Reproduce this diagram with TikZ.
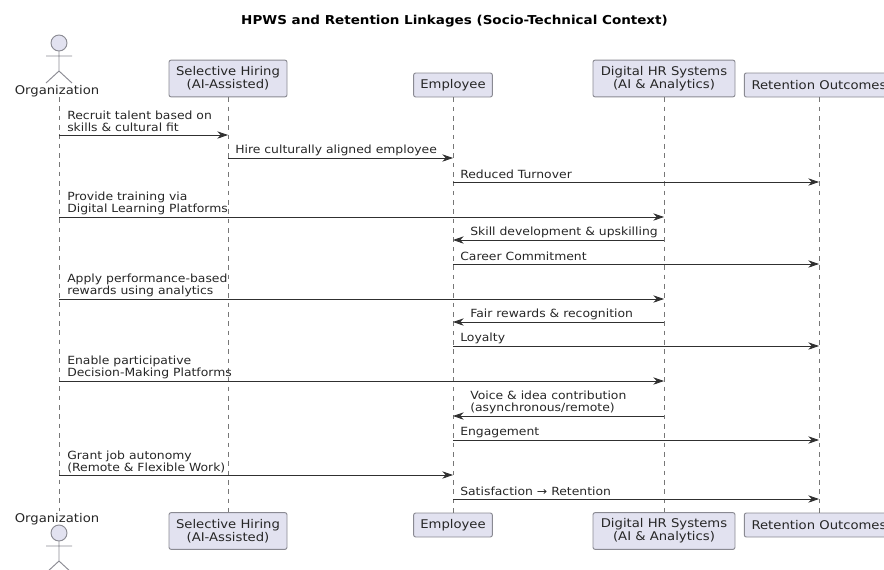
\documentclass[tikz,border=0pt]{standalone}
\usepackage{fontspec}
\setmainfont[FakeStretch=1.1]{DejaVu Sans}
\usepackage{tikz}
\usetikzlibrary{arrows.meta}
\definecolor{boxfill}{HTML}{E2E2F0}
\definecolor{boxline}{HTML}{8A8A92}
\definecolor{lifeline}{HTML}{777777}
\definecolor{msgline}{HTML}{303030}
\tikzset{
  partbox/.style={draw=boxline,fill=boxfill,rounded corners=1.5pt,line width=.7pt,align=center,
    inner sep=0pt,minimum height=#1,font=\fontsize{9}{9.7}\selectfont,text=black!85},
  partbox/.default=27.5pt,
  actorbody/.style={draw=boxline,line width=.7pt},
  lifedash/.style={draw=lifeline,line width=.5pt,dash pattern=on 3.5pt off 3.5pt},
  msgarrow/.style={draw=msgline,line width=.6pt,-{Stealth[length=8pt,width=5.5pt,inset=2.5pt]}},
  msgtext/.style={anchor=south west,align=left,inner sep=0pt,font=\fontsize{8.45}{9}\selectfont,text=black!85},
  actorname/.style={inner sep=0pt,font=\fontsize{9}{9.7}\selectfont,text=black!85}
}
\begin{document}
\begin{tikzpicture}[x=.75pt,y=-.75pt]
  \useasboundingbox (0,0) rectangle (884,569);
  \clip (0,0) rectangle (884,569);
  \node[font=\bfseries\fontsize{9.2}{10}\selectfont] (title) at (454.5,21) {HPWS and Retention Linkages (Socio-Technical Context)};
  % top row
  \node[actorname] (orgtop) at (57,91) {Organization};
  \node[partbox,minimum width=88.5pt] (hiretop) at (228,78.5) {Selective Hiring\\(AI-Assisted)};
  \node[partbox=18pt,minimum width=59pt] (emptop) at (453,85) {Employee};
  \node[partbox,minimum width=106.5pt] (hrtop) at (664,78.5) {Digital HR Systems\\(AI \& Analytics)};
  \node[partbox=18pt,minimum width=112pt] (rettop) at (819,85) {Retention Outcomes};
  % bottom row
  \node[actorname] (orgbot) at (57,519) {Organization};
  \node[partbox,minimum width=88.5pt] (hirebot) at (228,531) {Selective Hiring\\(AI-Assisted)};
  \node[partbox=18pt,minimum width=59pt] (empbot) at (453,525) {Employee};
  \node[partbox,minimum width=106.5pt] (hrbot) at (664,531) {Digital HR Systems\\(AI \& Analytics)};
  \node[partbox=18pt,minimum width=112pt] (retbot) at (819,525) {Retention Outcomes};
  % actors
  \foreach \y in {43,533}
  {
    \draw[actorbody,fill=boxfill] (59,\y) circle (8);
    \draw[actorbody] (59,\y+8) -- (59,\y+28) (46,\y+13) -- (72,\y+13)
    (46,\y+40) -- (59,\y+28) -- (72,\y+40);
  }
  % lifelines
  \coordinate (orgup) at (59,97);
  \coordinate (orgdown) at (59,511);
  \draw[lifedash] (orgup) -- (orgdown);
  \foreach \n in {hire,emp,hr,ret}
  {
    \draw[lifedash] (\n top.south) -- (\n bot.north);
  }
  % messages
  \foreach \a/\b/\y/\dx/\txt in {
    orgup/hiretop/135/8/{Recruit talent based on\\skills \& cultural fit},
    hiretop/emptop/158/7/{Hire culturally aligned employee},
    emptop/rettop/182/7/{Reduced Turnover},
    orgup/hrtop/217/8/{Provide training via\\Digital Learning Platforms},
    hrtop/emptop/240/17/{Skill development \& upskilling},
    emptop/rettop/264/7/{Career Commitment},
    orgup/hrtop/299/8/{Apply performance-based\\rewards using analytics},
    hrtop/emptop/322/17/{Fair rewards \& recognition},
    emptop/rettop/346/7/{Loyalty},
    orgup/hrtop/381/8/{Enable participative\\Decision-Making Platforms},
    hrtop/emptop/416/17/{Voice \& idea contribution\\(asynchronous/remote)},
    emptop/rettop/440/7/{Engagement},
    orgup/emptop/475/8/{Grant job autonomy\\(Remote \& Flexible Work)},
    emptop/rettop/499/7/{Satisfaction → Retention}}
  {
    \draw[msgarrow] (\a |- 0,\y) -- (\b |- 0,\y);
    \ifnum\dx=17
      \node[msgtext] at ([xshift=\dx*.75pt]\b |- 0,\y-2) {\txt\vphantom{(}};
    \else
      \node[msgtext] at ([xshift=\dx*.75pt]\a |- 0,\y-2) {\txt\vphantom{(}};
    \fi
  }
\end{tikzpicture}
\end{document}
